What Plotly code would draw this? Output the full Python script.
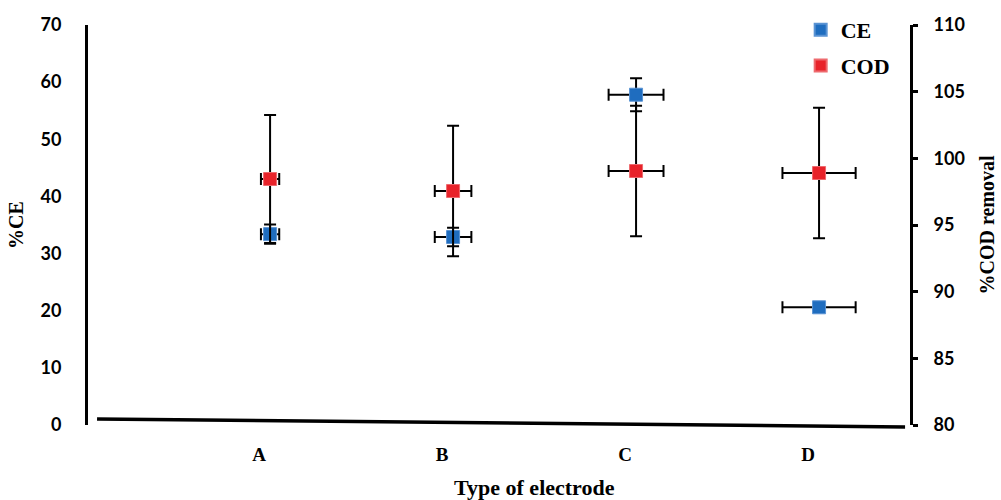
import plotly.graph_objects as go

# ---- data ----
electrodes = ["A", "B", "C", "D"]
electrode_pos = [1, 2, 3, 4]
ce_values = [33.4, 32.9, 57.8, 20.6]
ce_err_y = [1.7, 1.6, 2.9, 0.0]
ce_err_x = [0.05, 0.10, 0.15, 0.20]
cod_values = [98.45, 97.55, 99.05, 98.9]
cod_err_y = [4.8, 4.9, 4.9, 4.9]
cod_err_x = [0.05, 0.10, 0.15, 0.20]
ce_ticks = [0, 10, 20, 30, 40, 50, 60, 70]
cod_ticks = [80, 85, 90, 95, 100, 105, 110]

BLUE = "#1f6dbf"
RED = "#e8232a"
TICKFONT = dict(family="Lato", size=18, color="black", weight="bold")
SERIF = "Liberation Serif"

fig = go.Figure()

fig.add_trace(go.Scatter(
    x=electrode_pos, y=ce_values, name="CE", mode="markers", legendgroup="ce",
    marker=dict(symbol="square", size=13, color=BLUE, line=dict(color="#5a93d3", width=1)),
    error_y=dict(type="data", array=ce_err_y, color="black", thickness=2, width=6),
    error_x=dict(type="data", array=ce_err_x, color="black", thickness=2, width=6),
    yaxis="y",
))
fig.add_trace(go.Scatter(
    x=electrode_pos, y=cod_values, name="COD", mode="markers", legendgroup="cod",
    marker=dict(symbol="square", size=13, color=RED, line=dict(color="#ee6a6e", width=1)),
    error_y=dict(type="data", array=cod_err_y, color="black", thickness=2, width=6),
    error_x=dict(type="data", array=cod_err_x, color="black", thickness=2, width=6),
    yaxis="y2",
))

fig.update_layout(
    width=1001, height=500,
    margin=dict(l=88, r=91, t=25, b=75, autoexpand=False),
    plot_bgcolor="white", paper_bgcolor="white",
    showlegend=True,
    legend=dict(
        x=0.867, y=1.04, xanchor="left", yanchor="top",
        font=dict(family=SERIF, size=22, color="black", weight="bold"),
        bgcolor="rgba(0,0,0,0)", itemsizing="constant", tracegroupgap=4,
        traceorder="grouped", itemwidth=30,
    ),
    xaxis=dict(
        range=[0.005, 4.497],
        tickvals=electrode_pos, ticktext=electrodes,
        showline=False, showgrid=False, zeroline=False, ticks="",
        ticklabelstandoff=16, ticklabelshift=-11, automargin=False,
        tickfont=dict(family=SERIF, size=19, color="black", weight="bold"),
    ),
    yaxis=dict(
        range=[0, 70], tickvals=ce_ticks,
        showline=True, linecolor="black", linewidth=3,
        showgrid=False, zeroline=False, ticks="",
        ticklabelstandoff=20, automargin=False,
        tickfont=TICKFONT,
        title=dict(text="%CE", standoff=12,
                   font=dict(family=SERIF, size=20, color="black", weight="bold")),
    ),
    yaxis2=dict(
        range=[80, 110], tickvals=cod_ticks,
        overlaying="y", side="right",
        showline=True, linecolor="black", linewidth=3,
        showgrid=False, zeroline=False,
        ticks="outside", ticklen=5, tickwidth=3, tickcolor="black",
        ticklabelstandoff=12, automargin=False,
        tickfont=TICKFONT,
        title=dict(text="%COD removal", standoff=17,
                   font=dict(family=SERIF, size=20, color="black", weight="bold")),
    ),
    annotations=[dict(
        text="Type of electrode", xref="paper", yref="paper",
        x=0.5426, y=-0.155, xanchor="center", yanchor="middle", showarrow=False,
        font=dict(family=SERIF, size=22, color="black", weight="bold"),
    )],
    shapes=[dict(
        type="line", xref="paper", yref="paper",
        x0=0.011, y0=0.015, x1=0.994, y1=-0.005,
        line=dict(color="black", width=3.5),
    )],
)

fig.write_html(
    "out.html",
    config={"displayModeBar": False},
    post_script="document.body.style.margin='0';document.body.style.overflow='hidden';",
)
